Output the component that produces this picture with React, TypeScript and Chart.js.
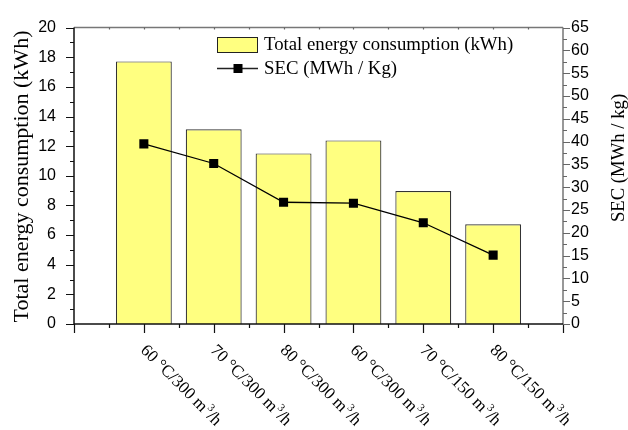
import React, { useEffect, useRef } from "react";
import { Chart, registerables } from "chart.js";

Chart.register(...registerables);

const categories = [
  "60 °C/300 m³/h",
  "70 °C/300 m³/h",
  "80 °C/300 m³/h",
  "60 °C/300 m³/h",
  "70 °C/150 m³/h",
  "80 °C/150 m³/h",
];
const energyKWh = [17.72, 13.14, 11.51, 12.39, 8.97, 6.73];
const secMWhPerKg = [39.5, 35.2, 26.7, 26.5, 22.2, 15.1];

const energyLabel = "Total energy consumption (kWh)";
const secLabel = "SEC (MWh / Kg)";
const leftTitle = "Total energy consumption (kWh)";
const rightTitle = "SEC (MWh / kg)";

const YELLOW = "#FFFF80";
const SERIF = '"Liberation Serif", "Times New Roman", serif';
const SANS = '"Liberation Sans", Arial, sans-serif';

const decorPlugin = {
  id: "decor",
  afterDraw(chart: any) {
    const { ctx, chartArea } = chart;
    const { left, right, top, bottom } = chartArea;
    const xs = chart.scales.x;
    const ys = chart.scales.y;
    const y1 = chart.scales.y1;
    ctx.save();

    // axis lines
    ctx.lineWidth = 1.5;
    ctx.strokeStyle = "#777";
    ctx.beginPath();
    ctx.moveTo(left, top);
    ctx.lineTo(right, top);
    ctx.moveTo(right, top);
    ctx.lineTo(right, bottom);
    ctx.stroke();
    ctx.strokeStyle = "#111";
    ctx.beginPath();
    ctx.moveTo(left, top);
    ctx.lineTo(left, bottom);
    ctx.lineTo(right, bottom);
    ctx.stroke();

    // tick marks
    ctx.lineWidth = 1.2;
    ctx.strokeStyle = "#111";
    ctx.beginPath();
    for (let v = 0; v <= 20; v += 1) {
      const p = Math.round(ys.getPixelForValue(v)) + 0.5;
      const len = v % 2 === 0 ? 8 : 4;
      ctx.moveTo(left - len, p);
      ctx.lineTo(left, p);
    }
    for (let v = 0; v <= 7; v += 0.5) {
      const p = Math.round(xs.getPixelForValue(v)) + 0.5;
      const len = v % 1 === 0 ? 9 : 4;
      ctx.moveTo(p, bottom);
      ctx.lineTo(p, bottom + len);
    }
    ctx.stroke();
    ctx.strokeStyle = "#666";
    ctx.beginPath();
    for (let v = 0; v <= 65; v += 2.5) {
      const p = Math.round(y1.getPixelForValue(v)) + 0.5;
      const len = v % 5 === 0 ? 7 : 4;
      ctx.moveTo(right, p);
      ctx.lineTo(right + len, p);
    }
    for (let v = 0.5; v < 7; v += 0.5) {
      const p = Math.round(xs.getPixelForValue(v)) + 0.5;
      ctx.moveTo(p, top);
      ctx.lineTo(p, top + 2);
    }
    ctx.stroke();

    // x labels, rotated 45deg clockwise
    ctx.fillStyle = "#000";
    const mainFont = `17px ${SERIF}`;
    const supFont = `11px ${SERIF}`;
    categories.forEach((label, i) => {
      const px = xs.getPixelForValue(i + 1);
      const parts = label.split("³");
      ctx.save();
      ctx.translate(px - 4, bottom + 27);
      ctx.rotate(Math.PI / 4);
      ctx.textAlign = "left";
      ctx.textBaseline = "alphabetic";
      ctx.font = mainFont;
      let cx = 0;
      ctx.fillText(parts[0], cx, 0);
      cx += ctx.measureText(parts[0]).width + 1;
      if (parts.length > 1) {
        ctx.font = supFont;
        ctx.fillText("3", cx, -7);
        cx += ctx.measureText("3").width;
        ctx.font = mainFont;
        ctx.fillText(parts[1], cx, 0);
      }
      ctx.restore();
    });

    // legend
    ctx.fillStyle = YELLOW;
    ctx.fillRect(217.5, 37.5, 40, 15);
    ctx.strokeStyle = "#222";
    ctx.lineWidth = 1;
    ctx.strokeRect(217.5, 37.5, 40, 15);
    ctx.lineWidth = 1.3;
    ctx.beginPath();
    ctx.moveTo(217, 68.5);
    ctx.lineTo(258, 68.5);
    ctx.stroke();
    ctx.fillStyle = "#000";
    ctx.fillRect(233.5, 64, 9, 9);
    ctx.font = `18.8px ${SERIF}`;
    ctx.textAlign = "left";
    ctx.textBaseline = "alphabetic";
    ctx.fillText(energyLabel, 264, 49.5);
    ctx.fillText(secLabel, 264, 74.3);

    // axis titles
    ctx.save();
    ctx.translate(28.3, 176.5);
    ctx.rotate(-Math.PI / 2);
    ctx.textAlign = "center";
    ctx.font = `22px ${SERIF}`;
    ctx.fillText(leftTitle, 0, 0);
    ctx.restore();

    ctx.save();
    ctx.translate(623.8, 158);
    ctx.rotate(-Math.PI / 2);
    ctx.textAlign = "center";
    ctx.font = `18.7px ${SERIF}`;
    ctx.fillText(rightTitle, 0, 0);
    ctx.restore();

    ctx.restore();
  },
};

export default function App() {
  const ref = useRef<HTMLCanvasElement | null>(null);
  useEffect(() => {
    if (!ref.current) return;
    const tickFont = { family: SANS, size: 16 };
    const chart = new Chart(ref.current, {
      type: "bar",
      data: {
        datasets: [
          {
            type: "line",
            label: secLabel,
            data: secMWhPerKg.map((v, i) => ({ x: i + 1, y: v })),
            yAxisID: "y1",
            borderColor: "#000",
            borderWidth: 1.3,
            pointStyle: "rect",
            pointRadius: 6.4,
            pointBackgroundColor: "#000",
            pointBorderWidth: 0,
            tension: 0,
            order: 0,
          } as any,
          {
            type: "bar",
            label: energyLabel,
            data: energyKWh.map((v, i) => ({ x: i + 1, y: v })),
            yAxisID: "y",
            backgroundColor: YELLOW,
            borderColor: "#333",
            borderWidth: 1.2,
            barPercentage: 0.8,
            categoryPercentage: 1,
            order: 1,
          },
        ],
      },
      options: {
        responsive: true,
        maintainAspectRatio: false,
        animation: false,
        layout: { padding: { top: 20, left: 0, right: 0, bottom: 0 } },
        plugins: { legend: { display: false }, tooltip: { enabled: false } },
        scales: {
          x: {
            type: "linear",
            offset: false,
            min: 0,
            max: 7,
            ticks: { stepSize: 1, display: false },
            grid: { display: false, drawTicks: false, offset: false },
            border: { display: false },
            afterFit: (s: any) => {
              s.height = 106;
            },
          },
          y: {
            position: "left",
            min: 0,
            max: 20,
            ticks: { stepSize: 2, padding: 18, font: tickFont, color: "#000", autoSkip: false },
            grid: { display: false, drawTicks: false },
            border: { display: false },
            afterFit: (s: any) => {
              s.width = 74;
            },
          },
          y1: {
            position: "right",
            min: 0,
            max: 65,
            ticks: { stepSize: 5, padding: 8, font: tickFont, color: "#000", autoSkip: false },
            grid: { display: false, drawTicks: false },
            border: { display: false },
            afterFit: (s: any) => {
              s.width = 65;
            },
          },
        },
      } as any,
      plugins: [decorPlugin],
    });
    return () => chart.destroy();
  }, []);
  return (
    <div style={{ position: "absolute", left: 0, top: 0, width: 628, height: 430, background: "#fff" }}>
      <canvas ref={ref} />
    </div>
  );
}
